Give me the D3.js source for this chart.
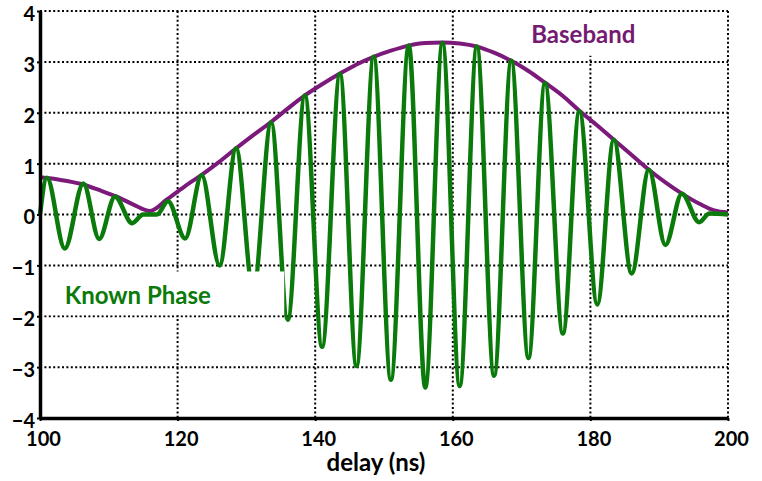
<!DOCTYPE html>
<html>
<head>
<meta charset="utf-8">
<script src="https://cdn.jsdelivr.net/npm/d3@7/dist/d3.min.js"></script>
<style>
    body { margin: 0; background: #fff; }
    text { font-family: Lato, "Open Sans", sans-serif; font-weight: bold; }
</style>
</head>
<body>
<div id="chart"></div>
<script>
// tick values
var xTicks = [100, 120, 140, 160, 180, 200];
var yTicks = [-4, -3, -2, -1, 0, 1, 2, 3, 4];

// Baseband envelope
var basebandDelay = [100, 103, 106, 109, 111, 113.5, 116, 118.5, 121, 123.5, 126, 128.5, 131, 133.6, 136, 138.5,
    141, 143.6, 146, 148.5, 151, 153.6, 156, 158.5, 161, 163.5, 166, 168.5, 171, 173.4, 176, 178.4,
    181, 183.4, 186, 188.5, 191, 193.3, 196, 198, 200];
var basebandValue = [0.73, 0.68, 0.6, 0.46, 0.36, 0.2, 0.07, 0.3, 0.55, 0.78, 1.03, 1.3, 1.56, 1.82, 2.08, 2.34,
    2.56, 2.77, 2.95, 3.1, 3.22, 3.32, 3.37, 3.38, 3.36, 3.3, 3.18, 3.02, 2.82, 2.59, 2.33, 2.04,
    1.75, 1.47, 1.17, 0.88, 0.62, 0.41, 0.2, 0.08, 0.04];

// Known Phase signal: turning points
var knownDelay = [100, 101, 103.6, 106.3, 108.6, 110.9, 113.4, 115, 117, 118.6, 121.1, 123.5, 126.1, 128.5,
    131, 133.6, 136, 138.5, 141, 143.6, 146, 148.5, 151, 153.6, 156, 158.5, 161, 163.5, 166, 168.5,
    171, 173.4, 176, 178.4, 181, 183.4, 186, 188.5, 190.9, 193.3, 195.8, 197.3, 200];
var knownValue = [0, 0.72, -0.67, 0.61, -0.48, 0.35, -0.17, 0, 0, 0.26, -0.47, 0.77, -1.0, 1.3,
    -1.5, 1.81, -2.07, 2.34, -2.6, 2.76, -2.98, 3.1, -3.25, 3.32, -3.4, 3.37, -3.37, 3.3, -3.17, 3.02,
    -2.82, 2.58, -2.34, 2.03, -1.77, 1.47, -1.16, 0.88, -0.6, 0.41, -0.15, 0.02, 0];

var margin = { top: 11, right: 34, bottom: 63, left: 40 };
var width = 762 - margin.left - margin.right;
var height = 481 - margin.top - margin.bottom;

var svg = d3.select("#chart")
    .append("svg")
    .attr("width", 762)
    .attr("height", 481)
    .append("g")
    .attr("transform", "translate(" + margin.left + "," + margin.top + ")");

var x = d3.scaleLinear().domain([100, 200]).range([0, width]);
var y = d3.scaleLinear().domain([-4, 4]).range([height, 0]);

// dotted grid
svg.selectAll(".hgrid")
    .data(yTicks)
    .enter()
    .append("line")
    .attr("x1", 0)
    .attr("x2", width)
    .attr("y1", function (d) { return y(d); })
    .attr("y2", function (d) { return y(d); })
    .attr("stroke", "#000")
    .attr("stroke-width", 2)
    .attr("stroke-dasharray", "2,2.4");

svg.selectAll(".vgrid")
    .data(xTicks)
    .enter()
    .append("line")
    .attr("y1", 0)
    .attr("y2", height)
    .attr("x1", function (d) { return x(d); })
    .attr("x2", function (d) { return x(d); })
    .attr("stroke", "#000")
    .attr("stroke-width", 2)
    .attr("stroke-dasharray", "2,2.4");

var baseband = basebandDelay.map(function (d, i) { return [d, basebandValue[i]]; });
var known = knownDelay.map(function (d, i) { return [d, knownValue[i]]; });

var line = d3.line()
    .x(function (d) { return x(d[0]); })
    .y(function (d) { return y(d[1]); })
    .curve(d3.curveMonotoneX);

svg.append("path")
    .datum(baseband)
    .attr("d", line)
    .attr("fill", "none")
    .attr("stroke", "#7b1a7b")
    .attr("stroke-width", 4);

svg.append("path")
    .datum(known)
    .attr("d", line)
    .attr("fill", "none")
    .attr("stroke", "#0a7a0a")
    .attr("stroke-width", 4.5)
    .attr("stroke-linejoin", "round");

// label boxes (they hide part of the grid and the curve)
svg.append("rect")
    .attr("x", 2)
    .attr("y", y(-1.12))
    .attr("width", x(135.5) - 2)
    .attr("height", y(-2.0) - y(-1.12) - 1)
    .attr("fill", "#fff");

svg.append("rect")
    .attr("x", x(168.5))
    .attr("y", 3)
    .attr("width", x(198) - x(168.5))
    .attr("height", y(3.12) - 3)
    .attr("fill", "#fff");

svg.append("text")
    .attr("x", x(103.6))
    .attr("y", y(-1.76))
    .attr("fill", "#0a7a0a")
    .attr("font-size", 24)
    .text("Known Phase");

svg.append("text")
    .attr("x", x(171.4))
    .attr("y", y(3.37))
    .attr("fill", "#741a70")
    .attr("font-size", 24)
    .text("Baseband");

// axes
var xAxis = svg.append("g")
    .attr("transform", "translate(0," + height + ")")
    .call(d3.axisBottom(x).tickValues(xTicks).tickSizeInner(3).tickSizeOuter(0));

xAxis.selectAll("text")
    .attr("y", 28)
    .attr("dy", 0)
    .attr("dx", 3)
    .attr("font-size", 20)
    .attr("fill", "#000");

var yAxis = svg.append("g")
    .call(d3.axisLeft(y).tickValues(yTicks).tickFormat(d3.format("d")).tickSizeInner(3).tickSizeOuter(0).tickPadding(2));

yAxis.selectAll("text")
    .attr("dy", "0.32em")
    .attr("transform", "translate(0,3)")
    .attr("font-size", 20)
    .attr("fill", "#000");

svg.selectAll(".domain")
    .attr("stroke", "#000")
    .attr("stroke-width", 3.5);
svg.selectAll(".tick line")
    .attr("stroke", "#000")
    .attr("stroke-width", 2);

// axis title
svg.append("text")
    .attr("x", x(150) - 8)
    .attr("y", height + 53)
    .attr("text-anchor", "middle")
    .attr("font-size", 24)
    .attr("fill", "#000")
    .text("delay (ns)");
</script>
</body>
</html>
